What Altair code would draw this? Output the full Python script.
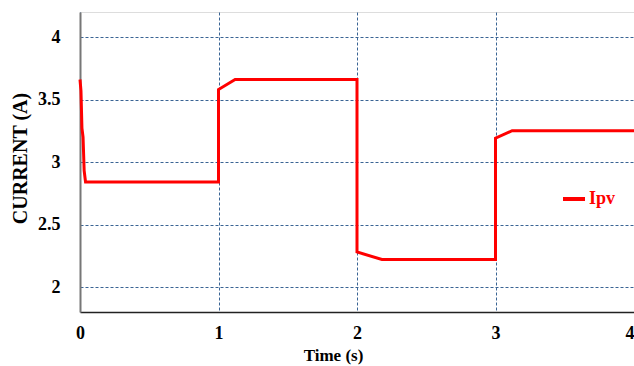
import altair as alt
import pandas as pd

# PV current response to irradiance steps
time_s = [0.0, 0.007, 0.014, 0.022, 0.030, 0.040, 1.0, 1.0, 1.12, 2.0, 2.0, 2.18, 3.0, 3.0, 3.12, 4.0]
current_a = [3.66, 3.57, 3.27, 3.20, 2.93, 2.84, 2.84, 3.58, 3.66, 3.66, 2.28, 2.22, 2.22, 3.19, 3.25, 3.25]
series = ["Ipv"] * len(time_s)

x_ticks = [0, 1, 2, 3, 4]
y_ticks = [2, 2.5, 3, 3.5, 4]

df = pd.DataFrame({"t": time_s, "i": current_a, "s": series})

SERIF = "Liberation Serif"
GRID = "#3a6494"

chart = (
    alt.Chart(df)
    .mark_line(strokeWidth=3, interpolate="linear")
    .encode(
        x=alt.X(
            "t:Q",
            scale=alt.Scale(domain=[0, 4], nice=False, zero=False),
            axis=alt.Axis(
                values=x_ticks,
                gridDash=[3, 2],
                gridColor=GRID,
                gridWidth=1,
                ticks=False,
                labelPadding=12,
                labelFont=SERIF,
                labelFontSize=18,
                labelFontWeight="bold",
                labelColor="black",
                labelAlign={"condition": {"test": "datum.value == 4", "value": "right"}, "value": "center"},
                domainColor="#222",
                domainWidth=1.5,
                title="Time (s)",
                titleFont=SERIF,
                titleFontSize=17,
                titleFontWeight="bold",
                titleColor="black",
                titleX=253,
                titleY=43,
                titleBaseline="middle",
                titleAlign="center",
                labelFlush=False,
            ),
        ),
        y=alt.Y(
            "i:Q",
            scale=alt.Scale(domain=[1.8, 4.2], nice=False, zero=False),
            axis=alt.Axis(
                values=y_ticks,
                format=".1~f",
                gridDash=[3, 2],
                gridColor=GRID,
                gridWidth=1,
                ticks=False,
                labelPadding=20,
                labelFont=SERIF,
                labelFontSize=18,
                labelFontWeight="bold",
                labelColor="black",
                domainColor="#777",
                domainWidth=2,
                title="CURRENT (A)",
                titleFont=SERIF,
                titleFontSize=20,
                titleFontWeight="bold",
                titleColor="black",
                titleX=-60,
                titleY=146,
                titleAngle=-90,
                titleBaseline="middle",
                titleAlign="center",
            ),
        ),
        color=alt.Color(
            "s:N",
            scale=alt.Scale(domain=["Ipv"], range=["#ff0000"]),
            legend=alt.Legend(
                title=None,
                orient="none",
                legendX=481,
                legendY=174,
                symbolType="stroke",
                symbolStrokeWidth=4,
                symbolSize=484,
                labelFont=SERIF,
                labelFontSize=18,
                labelFontWeight="bold",
                labelColor="#ff0000",
                labelOffset=2,
            ),
        ),
    )
    .properties(
        width=554,
        height=300,
        autosize=alt.AutoSizeParams(type="none"),
        padding={"left": 80, "top": 12, "right": 0, "bottom": 54},
    )
    .configure_view(stroke="#222", strokeWidth=1)
    .configure(background="white")
)

chart.save("out.html", embed_options={"renderer": "svg", "actions": False})
